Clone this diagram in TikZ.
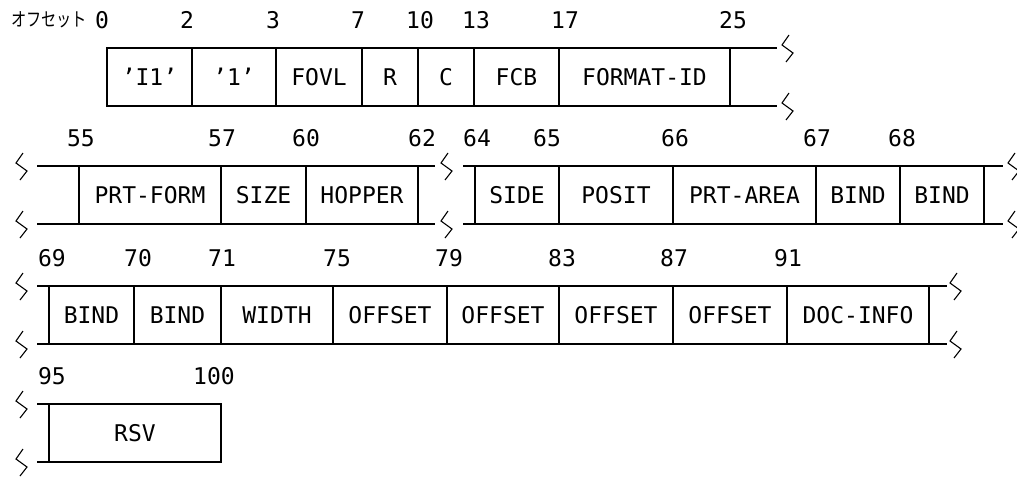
\documentclass[tikz,border=0pt]{standalone}
\usepackage{fontspec}
\usepackage{tikz}
\newfontfamily\fieldfont{DejaVu Sans Mono}
\newfontfamily\jpfont{Noto Sans CJK JP}

\tikzset{
  field/.style={draw, line width=1.5pt, minimum height=58pt, inner sep=0pt, outer sep=0pt,
    font=\fieldfont\fontsize{23}{23}\selectfont},
  offs/.style={inner sep=0pt, font=\fieldfont\fontsize{23}{23}\selectfont},
  rule/.style={line width=1.5pt},
  brk/.pic={\draw[line width=1.1pt] (7,-13) -- (0,-3) -- (11,5) -- (4,14);}
}

\begin{document}
\begin{tikzpicture}[x=1pt, y=-1pt]
        \useasboundingbox (0,0) rectangle (1017,477);
        % row 1: offsets 0-25
        \node[offs, font=\jpfont\fontsize{19}{19}\selectfont, anchor=west] (head) at (11,20)
          {\scalebox{0.8}[1]{オフセット}};
        \foreach \x/\n in {102/0, 187/2, 273/3, 358/7, 420/10, 476/13, 565/17, 733/25}
          \node[offs] (o\n) at (\x,20) {\n};
        \foreach \a/\b/\t in {107/192/’I1’, 192/276/’1’, 276/362/FOVL, 362/418/R,
                              418/474/C, 474/559/FCB, 559/730/FORMAT-ID}
          \node[field, minimum width=\b pt-\a pt] (f\a) at ({(\a+\b)/2},77) {\t};
        \draw[rule] (f559.north east) -- ++(47,0);
        \draw[rule] (f559.south east) -- ++(47,0);
        \pic at (782,48) {brk};
        \pic at (782,106) {brk};

        % row 2: offsets 55-68, broken after 62
        \foreach \x/\n in {81/55, 222/57, 306/60, 422/62, 477/64, 547/65, 675/66, 817/67, 902/68}
          \node[offs] (o\n) at (\x,138) {\n};
        \foreach \a/\b/\t in {79/221/PRT-FORM, 221/306/SIZE, 306/418/HOPPER,
                              475/559/SIDE, 559/673/POSIT, 673/816/PRT-AREA,
                              816/900/BIND, 900/984/BIND}
          \node[field, minimum width=\b pt-\a pt] (f\a) at ({(\a+\b)/2},195) {\t};
        \draw[rule] (f79.north west) -- ++(-42,0);
        \draw[rule] (f79.south west) -- ++(-42,0);
        \draw[rule] (f306.north east) -- ++(17,0);
        \draw[rule] (f306.south east) -- ++(17,0);
        \draw[rule] (f475.north west) -- ++(-12,0);
        \draw[rule] (f475.south west) -- ++(-12,0);
        \draw[rule] (f900.north east) -- ++(19,0);
        \draw[rule] (f900.south east) -- ++(19,0);
        \foreach \x in {16, 441, 1008} {
          \pic at (\x,166) {brk};
          \pic at (\x,224) {brk};
        }

        % row 3: offsets 69-91
        \foreach \x/\n in {52/69, 138/70, 222/71, 337/75, 449/79, 562/83, 674/87, 788/91}
          \node[offs] (o\n) at (\x,258) {\n};
        \foreach \a/\b/\t in {49/134/BIND, 134/221/BIND, 221/333/WIDTH, 333/447/OFFSET,
                              447/559/OFFSET, 559/673/OFFSET, 673/787/OFFSET, 787/929/DOC-INFO}
          \node[field, minimum width=\b pt-\a pt] (f\a) at ({(\a+\b)/2},315) {\t};
        \draw[rule] (f49.north west) -- ++(-12,0);
        \draw[rule] (f49.south west) -- ++(-12,0);
        \draw[rule] (f787.north east) -- ++(18,0);
        \draw[rule] (f787.south east) -- ++(18,0);
        \foreach \x in {16, 950} {
          \pic at (\x,286) {brk};
          \pic at (\x,344) {brk};
        }

        % row 4: offsets 95-100
        \node[offs] (o95) at (52,376) {95};
        \node[offs] (o100) at (214,376) {100};
        \node[field, minimum width=172pt] (f95) at (135,433) {RSV};
        \draw[rule] (f95.north west) -- ++(-12,0);
        \draw[rule] (f95.south west) -- ++(-12,0);
        \pic at (16,404) {brk};
        \pic at (16,462) {brk};
      \end{tikzpicture}
\end{document}
